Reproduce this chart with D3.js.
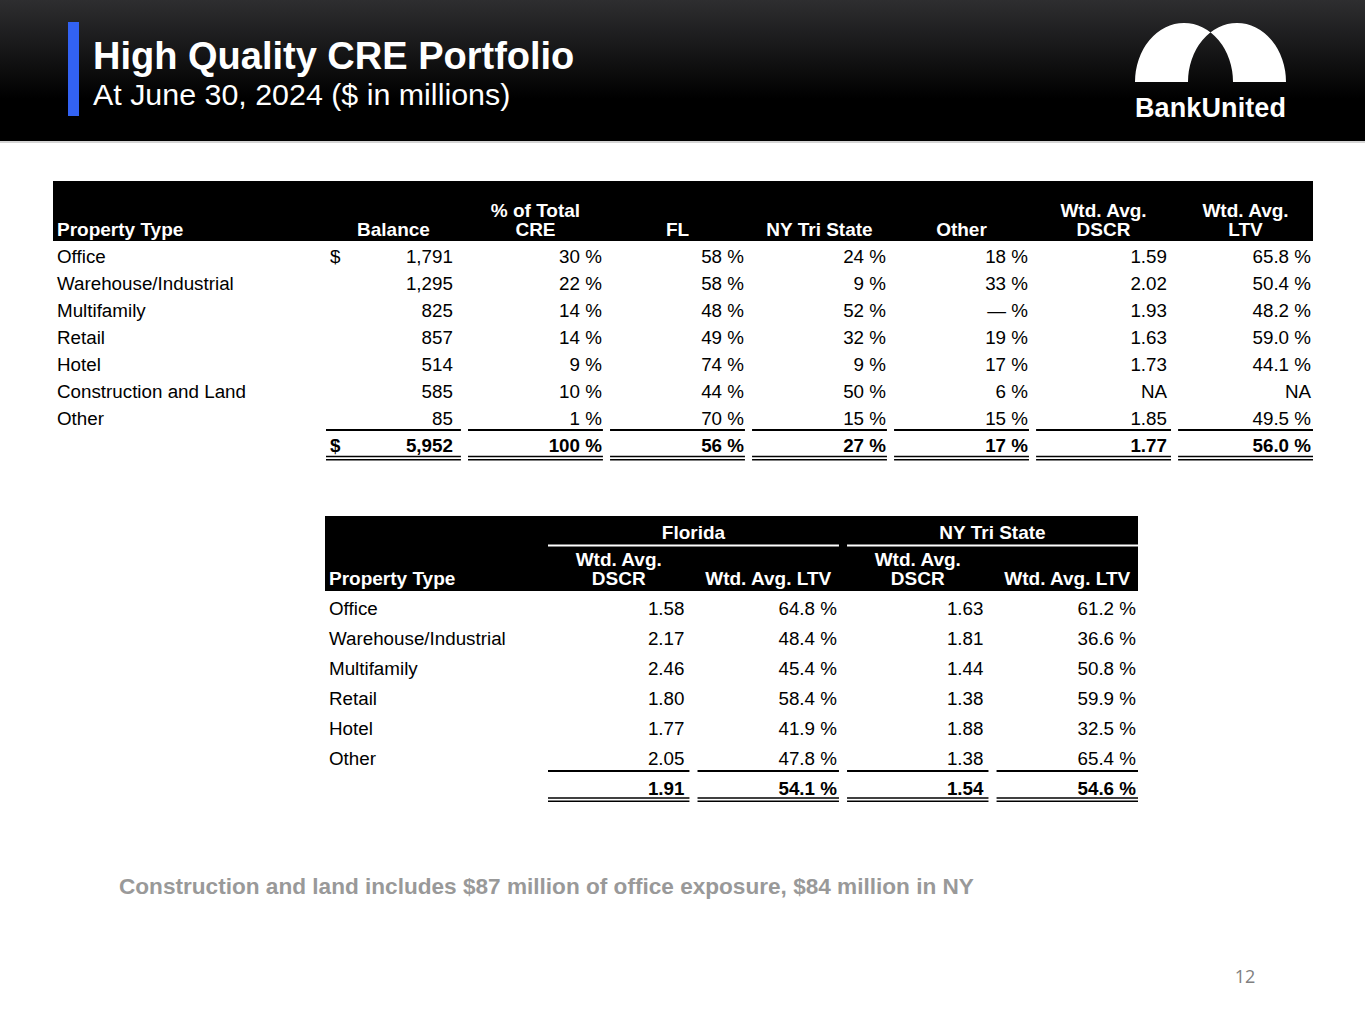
<!DOCTYPE html>
<html>
<head>
<meta charset="utf-8">
<script src="https://cdn.jsdelivr.net/npm/d3@7"></script>
<style>
  body { margin: 0; background: #fff; }
  svg { display: block; font-family: "Liberation Sans", Arial, sans-serif; }
</style>
</head>
<body>
<svg id="chart" width="1365" height="1024"></svg>
<script>
// ---- data: CRE portfolio by property type ----
const propertyTypes = ["Office", "Warehouse/Industrial", "Multifamily", "Retail", "Hotel", "Construction and Land", "Other"];
const balance = [1791, 1295, 825, 857, 514, 585, 85];
const pctOfTotal = [30, 22, 14, 14, 9, 10, 1];
const flShare = [58, 58, 48, 49, 74, 44, 70];
const nyShare = [24, 9, 52, 32, 9, 50, 15];
const otherShare = [18, 33, null, 19, 17, 6, 15];
const wtdDscr = [1.59, 2.02, 1.93, 1.63, 1.73, null, 1.85];
const wtdLtv = [65.8, 50.4, 48.2, 59.0, 44.1, null, 49.5];
const totals1 = [5952, 100, 56, 27, 17, 1.77, 56.0];
const headers1 = [["Balance"], ["% of Total", "CRE"], ["FL"], ["NY Tri State"], ["Other"], ["Wtd. Avg.", "DSCR"], ["Wtd. Avg.", "LTV"]];

// ---- data: DSCR / LTV by region ----
const regionTypes = ["Office", "Warehouse/Industrial", "Multifamily", "Retail", "Hotel", "Other"];
const regions = ["Florida", "NY Tri State"];
const flDscr = [1.58, 2.17, 2.46, 1.80, 1.77, 2.05];
const flLtv = [64.8, 48.4, 45.4, 58.4, 41.9, 47.8];
const nyDscr = [1.63, 1.81, 1.44, 1.38, 1.88, 1.38];
const nyLtv = [61.2, 36.6, 50.8, 59.9, 32.5, 65.4];
const totals2 = [1.91, 54.1, 1.54, 54.6];
const headers2 = [["Wtd. Avg.", "DSCR"], ["Wtd. Avg. LTV"], ["Wtd. Avg.", "DSCR"], ["Wtd. Avg. LTV"]];

const footnote = "Construction and land includes $87 million of office exposure, $84 million in NY";

const svg = d3.select("#chart");
const fs = 18.8;   // body text
const hfs = 19;    // header text

const fmtInt = d3.format(",");
const fmtPct = v => v == null ? "\u2014 %" : v + " %";
const fmtDscr = v => v == null ? "NA" : d3.format(".2f")(v);
const fmtLtv = v => v == null ? "NA" : d3.format(".1f")(v) + " %";

// ---- header band ----
const defs = svg.append("defs");
const grad = defs.append("linearGradient").attr("id", "hdr").attr("x1", 0).attr("y1", 0).attr("x2", 0).attr("y2", 1);
grad.append("stop").attr("offset", "0%").attr("stop-color", "#2e2e30");
grad.append("stop").attr("offset", "70%").attr("stop-color", "#000");
grad.append("stop").attr("offset", "100%").attr("stop-color", "#000");

svg.append("rect").attr("x", 0).attr("y", 0).attr("width", 1365).attr("height", 141).attr("fill", "url(#hdr)");
svg.append("rect").attr("x", 0).attr("y", 141).attr("width", 1365).attr("height", 2).attr("fill", "#d4d4d4");
svg.append("rect").attr("x", 68).attr("y", 22).attr("width", 11).attr("height", 94).attr("fill", "#3262f3");

svg.append("text").attr("x", 93).attr("y", 68.5).attr("fill", "#fff")
  .attr("font-size", 38).attr("font-weight", "bold").text("High Quality CRE Portfolio");
svg.append("text").attr("x", 93).attr("y", 104.5).attr("fill", "#fff")
  .attr("font-size", 30.4).text("At June 30, 2024 ($ in millions)");

// logo: two overlapping domes, overlap knocked out
svg.append("path")
  .attr("d", "M1135,82 A49,59 0 0 1 1233,82 Z M1188,82 A49,59 0 0 1 1286,82 Z")
  .attr("fill", "#fff").attr("fill-rule", "evenodd");
svg.append("text").attr("x", 1135).attr("y", 117).attr("fill", "#fff")
  .attr("font-size", 27).attr("font-weight", "bold").attr("textLength", 151).text("BankUnited");

// ---- table 1 ----
const rows1 = d3.scaleBand().domain([...propertyTypes, "Total"]).range([242.5, 242.5 + 27 * 8]);
const cols1 = d3.scaleBand().domain(d3.range(7)).range([326, 1313]).paddingInner(0.05);
const pad1 = [8, 1, 1, 1, 1, 4, 2];
const colVals1 = [balance, pctOfTotal, flShare, nyShare, otherShare, wtdDscr, wtdLtv];
const colFmt1 = [fmtInt, fmtPct, fmtPct, fmtPct, fmtPct, fmtDscr, fmtLtv];
const cy1 = r => rows1(r) + rows1.bandwidth() / 2;
const base = c => c + 6.6;

const t1 = svg.append("g");
t1.append("rect").attr("x", 53).attr("y", 181).attr("width", 1313 - 53).attr("height", 60).attr("fill", "#000");
t1.append("text").attr("x", 57).attr("y", 235.5).attr("fill", "#fff").attr("font-size", hfs).attr("font-weight", "bold").text("Property Type");
headers1.forEach((lines, i) => {
  const cx = cols1(i) + cols1.bandwidth() / 2;
  lines.forEach((ln, j) => {
    t1.append("text").attr("x", cx).attr("y", 235.5 - (lines.length - 1 - j) * 19)
      .attr("text-anchor", "middle").attr("fill", "#fff").attr("font-size", hfs).attr("font-weight", "bold").text(ln);
  });
});

propertyTypes.forEach((p, r) => {
  t1.append("text").attr("x", 57).attr("y", base(cy1(p))).attr("font-size", fs).attr("fill", "#000").text(p);
  colVals1.forEach((vals, i) => {
    t1.append("text").attr("x", cols1(i) + cols1.bandwidth() - pad1[i]).attr("y", base(cy1(p)))
      .attr("text-anchor", "end").attr("font-size", fs).attr("fill", "#000").text(colFmt1[i](vals[r]));
  });
});
t1.append("text").attr("x", cols1(0) + 4).attr("y", base(cy1("Office"))).attr("font-size", fs).text("$");

// total row
t1.append("text").attr("x", cols1(0) + 4).attr("y", base(cy1("Total"))).attr("font-size", fs).attr("font-weight", "bold").text("$");
totals1.forEach((v, i) => {
  t1.append("text").attr("x", cols1(i) + cols1.bandwidth() - pad1[i]).attr("y", base(cy1("Total")))
    .attr("text-anchor", "end").attr("font-size", fs).attr("font-weight", "bold").text(colFmt1[i](v));
});
const lineY1 = rows1("Total") - 1.5;
const dblY1 = rows1("Total") + rows1.bandwidth() - 2;
d3.range(7).forEach(i => {
  const x0 = cols1(i), x1 = cols1(i) + cols1.bandwidth();
  [lineY1, dblY1, dblY1 + 3.3].forEach(y => {
    t1.append("line").attr("x1", x0).attr("x2", x1).attr("y1", y).attr("y2", y)
      .attr("stroke", "#000").attr("stroke-width", y === lineY1 ? 2 : 1.5);
  });
});

// ---- table 2 ----
const rows2 = d3.scaleBand().domain([...regionTypes, "Total"]).range([593, 593 + 30 * 7]);
const cols2 = d3.scaleBand().domain(d3.range(4)).range([548, 1138]).paddingInner(0.054);
const groups2 = d3.scaleBand().domain(regions).range([548, 1138]).paddingInner(0.027);
const pad2 = [5, 2, 5, 2];
const colVals2 = [flDscr, flLtv, nyDscr, nyLtv];
const colFmt2 = [fmtDscr, fmtLtv, fmtDscr, fmtLtv];
const cy2 = r => rows2(r) + rows2.bandwidth() / 2;

const t2 = svg.append("g");
t2.append("rect").attr("x", 325).attr("y", 516).attr("width", 1138 - 325).attr("height", 75).attr("fill", "#000");
regions.forEach(g => {
  t2.append("text").attr("x", groups2(g) + groups2.bandwidth() / 2).attr("y", 538.5)
    .attr("text-anchor", "middle").attr("fill", "#fff").attr("font-size", hfs).attr("font-weight", "bold").text(g);
  t2.append("line").attr("x1", groups2(g)).attr("x2", groups2(g) + groups2.bandwidth())
    .attr("y1", 545.5).attr("y2", 545.5).attr("stroke", "#fff").attr("stroke-width", 2);
});
t2.append("text").attr("x", 329).attr("y", 584.5).attr("fill", "#fff").attr("font-size", hfs).attr("font-weight", "bold").text("Property Type");
headers2.forEach((lines, i) => {
  const cx = cols2(i) + cols2.bandwidth() / 2;
  lines.forEach((ln, j) => {
    t2.append("text").attr("x", cx).attr("y", 584.5 - (lines.length - 1 - j) * 19)
      .attr("text-anchor", "middle").attr("fill", "#fff").attr("font-size", hfs).attr("font-weight", "bold").text(ln);
  });
});

regionTypes.forEach((p, r) => {
  t2.append("text").attr("x", 329).attr("y", base(cy2(p))).attr("font-size", fs).text(p);
  colVals2.forEach((vals, i) => {
    t2.append("text").attr("x", cols2(i) + cols2.bandwidth() - pad2[i]).attr("y", base(cy2(p)))
      .attr("text-anchor", "end").attr("font-size", fs).text(colFmt2[i](vals[r]));
  });
});
totals2.forEach((v, i) => {
  t2.append("text").attr("x", cols2(i) + cols2.bandwidth() - pad2[i]).attr("y", base(cy2("Total")))
    .attr("text-anchor", "end").attr("font-size", fs).attr("font-weight", "bold").text(colFmt2[i](v));
});
const lineY2 = rows2("Total") - 2;
const dblY2 = rows2("Total") + rows2.bandwidth() - 5;
d3.range(4).forEach(i => {
  const x0 = cols2(i), x1 = cols2(i) + cols2.bandwidth();
  [lineY2, dblY2, dblY2 + 3.3].forEach(y => {
    t2.append("line").attr("x1", x0).attr("x2", x1).attr("y1", y).attr("y2", y)
      .attr("stroke", "#000").attr("stroke-width", y === lineY2 ? 2 : 1.5);
  });
});

// ---- footnote and page number ----
svg.append("text").attr("x", 119).attr("y", 894).attr("font-size", 22.6).attr("font-weight", "bold")
  .attr("fill", "#999").text(footnote);
svg.append("text").attr("x", 1245).attr("y", 983).attr("text-anchor", "middle").attr("font-size", 18)
  .attr("fill", "#808080").attr("font-family", "'Open Sans', sans-serif").text("12");
</script>
</body>
</html>
